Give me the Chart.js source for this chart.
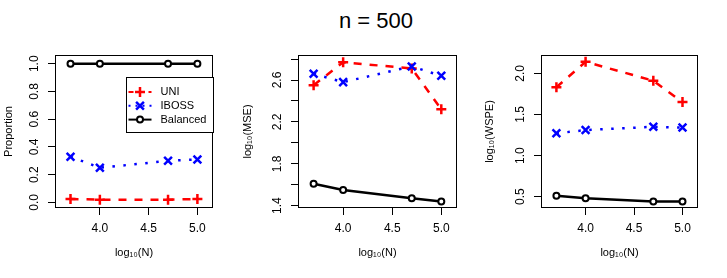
<!DOCTYPE html>
<html>
<head>
<meta charset="utf-8">
<script src="https://cdn.jsdelivr.net/npm/chart.js@4.4.1/dist/chart.umd.min.js"></script>
<style>
  html, body { margin: 0; padding: 0; background: #fff; }
  #wrap { position: relative; width: 727px; height: 278px; overflow: hidden; }
  #title { position: absolute; left: 300px; top: 8px; width: 152px; text-align: center;
           font: 22px/25px "Liberation Sans", Arial, sans-serif; color: #000; }
  canvas { position: absolute; top: 40px; }
</style>
</head>
<body>
<div id="wrap">
  <div id="title">n = 500</div>
  <canvas id="prop" width="242" height="238" style="left:0px"></canvas>
  <canvas id="mse" width="242" height="238" style="left:242px"></canvas>
  <canvas id="wspe" width="243" height="238" style="left:484px"></canvas>
</div>
<script>
// log10(N) for N = 5000, 10000, 50000, 100000
const logN = [3.699, 4.0, 4.699, 5.0];
const xTicks = [4.0, 4.5, 5.0];
const methods = ['UNI', 'IBOSS', 'Balanced'];

// proportion panel
const propUNI = [0.025, 0.02, 0.02, 0.025];
const propIBOSS = [0.33, 0.25, 0.30, 0.31];
const propBal = [1.0, 1.0, 1.0, 1.0];
const propTicks = [0.0, 0.2, 0.4, 0.6, 0.8, 1.0];
const propLabels = [0.0, 0.2, 0.4, 0.6, 0.8, 1.0];

// log10(MSE) panel
const mseUNI = [2.55, 2.77, 2.71, 2.32];
const mseIBOSS = [2.66, 2.58, 2.73, 2.64];
const mseBal = [1.61, 1.55, 1.47, 1.44];
const mseTicks = [1.4, 1.6, 1.8, 2.0, 2.2, 2.4, 2.6, 2.8];
const mseLabels = [1.4, 1.8, 2.2, 2.6];

// log10(WSPE) panel
const wspeUNI = [1.83, 2.14, 1.91, 1.65];
const wspeIBOSS = [1.27, 1.31, 1.35, 1.34];
const wspeBal = [0.51, 0.48, 0.44, 0.44];
const wspeTicks = [0.5, 1.0, 1.5, 2.0];
const wspeLabels = [0.5, 1.0, 1.5, 2.0];

const FONT = '"Liberation Sans", Arial, sans-serif';
Chart.defaults.font.family = FONT;
Chart.defaults.color = '#000';

const looks = [
  { color: '#ff0000', dash: [8, 8], point: 'cross', radius: 5, pw: 2.5, order: 3 },
  { color: '#0000ff', dash: [2.5, 8.5], point: 'crossRot', radius: 5.5, pw: 2.5, order: 2 },
  { color: '#000000', dash: [], point: 'circle', radius: 3, pw: 2, order: 1 }
];

function series(vals, i) {
  const s = looks[i];
  return {
    label: methods[i],
    data: logN.map((x, k) => ({ x: x, y: vals[k] })),
    borderColor: s.color,
    borderWidth: 2.5,
    borderDash: s.dash,
    pointStyle: s.point,
    pointRadius: s.radius,
    pointBorderWidth: s.pw,
    pointBorderColor: s.color,
    pointBackgroundColor: '#ffffff',
    tension: 0,
    fill: false,
    order: s.order
  };
}

// full frame round the plot region, like R's box()
const boxPlugin = {
  id: 'box',
  afterDraw(chart) {
    const { ctx, chartArea: a } = chart;
    ctx.save();
    ctx.strokeStyle = '#000';
    ctx.lineWidth = 1;
    ctx.strokeRect(Math.round(a.left) + 0.5, Math.round(a.top) + 0.5,
      Math.round(a.right - a.left) - 1, Math.round(a.bottom - a.top) - 1);
    ctx.restore();
  }
};

function marker(ctx, s, x, y) {
  ctx.setLineDash([]);
  ctx.strokeStyle = s.color;
  ctx.fillStyle = '#ffffff';
  ctx.lineWidth = s.pw;
  Chart.helpers.drawPoint(ctx, { pointStyle: s.point, radius: s.radius, borderWidth: s.pw, rotation: 0 }, x, y);
}

// R style legend (line + marker), drawn inside the first panel
const legendPlugin = {
  id: 'rlegend',
  afterDraw(chart) {
    const { ctx, chartArea: a } = chart;
    const w = 87, h = 55;
    const x0 = Math.round(a.right - w) + 0.5, y0 = Math.round(a.top + 22) + 0.5;
    ctx.save();
    ctx.fillStyle = '#fff';
    ctx.fillRect(x0, y0, w, h);
    ctx.strokeStyle = '#000';
    ctx.lineWidth = 1;
    ctx.strokeRect(x0, y0, w, h);
    chart.data.datasets.forEach((ds, i) => {
      const s = looks[i];
      const y = y0 + 14.5 + i * 13.8;
      ctx.strokeStyle = s.color;
      ctx.lineWidth = 2;
      ctx.setLineDash(s.dash.length ? [5, 5] : []);
      if (s.point === 'crossRot') ctx.setLineDash([2, 5]);
      ctx.beginPath();
      ctx.moveTo(x0 + 2, y);
      ctx.lineTo(x0 + 25, y);
      ctx.stroke();
      marker(ctx, s, x0 + 13.5, y);
      ctx.fillStyle = '#000';
      ctx.font = '11px ' + FONT;
      ctx.textBaseline = 'middle';
      ctx.textAlign = 'left';
      ctx.fillText(ds.label, x0 + 34, y);
    });
    ctx.restore();
  }
};

function panel(id, sets, yMin, yMax, yTicks, yLabels, yTitle, boxLeft, padRight, yTitlePad, extra) {
  const tickGrid = { drawOnChartArea: false, color: '#000', tickLength: 7, tickWidth: 1, lineWidth: 1 };
  return new Chart(document.getElementById(id), {
    type: 'line',
    data: { datasets: sets.map((v, i) => series(v, i)) },
    options: {
      responsive: false,
      animation: false,
      events: [],
      layout: { padding: { left: 0, top: 15, right: padRight, bottom: 0 } },
      plugins: { legend: { display: false }, tooltip: { enabled: false } },
      scales: {
        x: {
          type: 'linear', min: 3.54, max: 5.16,
          afterBuildTicks: s => { s.ticks = xTicks.map(v => ({ value: v })); },
          afterFit: s => { s.height = 70; },
          grid: tickGrid,
          border: { display: false },
          ticks: { font: { size: 12 }, padding: 6, maxRotation: 0, autoSkip: false,
                   callback: v => v.toFixed(1) },
          title: { display: true, text: 'log₁₀(N)', font: { size: 11 }, padding: { top: 0, bottom: 18 } }
        },
        y: {
          type: 'linear', min: yMin, max: yMax,
          afterBuildTicks: s => { s.ticks = yTicks.map(v => ({ value: v })); },
          afterFit: s => { s.width = boxLeft; },
          grid: tickGrid,
          border: { display: false },
          ticks: { font: { size: 12 }, padding: 5, minRotation: 90, maxRotation: 90,
                   crossAlign: 'center', autoSkip: false,
                   callback: v => yLabels.includes(v) ? v.toFixed(1) : '' },
          title: { display: true, text: yTitle, font: { size: 11, lineHeight: 1 },
                   padding: { top: yTitlePad, bottom: 0 } }
        }
      }
    },
    plugins: extra ? [boxPlugin, extra] : [boxPlugin]
  });
}

panel('prop', [propUNI, propIBOSS, propBal], -0.04, 1.063, propTicks, propLabels, 'Proportion', 55, 29, 3.5, legendPlugin);
panel('mse', [mseUNI, mseIBOSS, mseBal], 1.378, 2.839, mseTicks, mseLabels, 'log₁₀(MSE)', 56, 27, 0.5);
panel('wspe', [wspeUNI, wspeIBOSS, wspeBal], 0.362, 2.223, wspeTicks, wspeLabels, 'log₁₀(WSPE)', 57, 29, 0.5);
</script>
</body>
</html>
